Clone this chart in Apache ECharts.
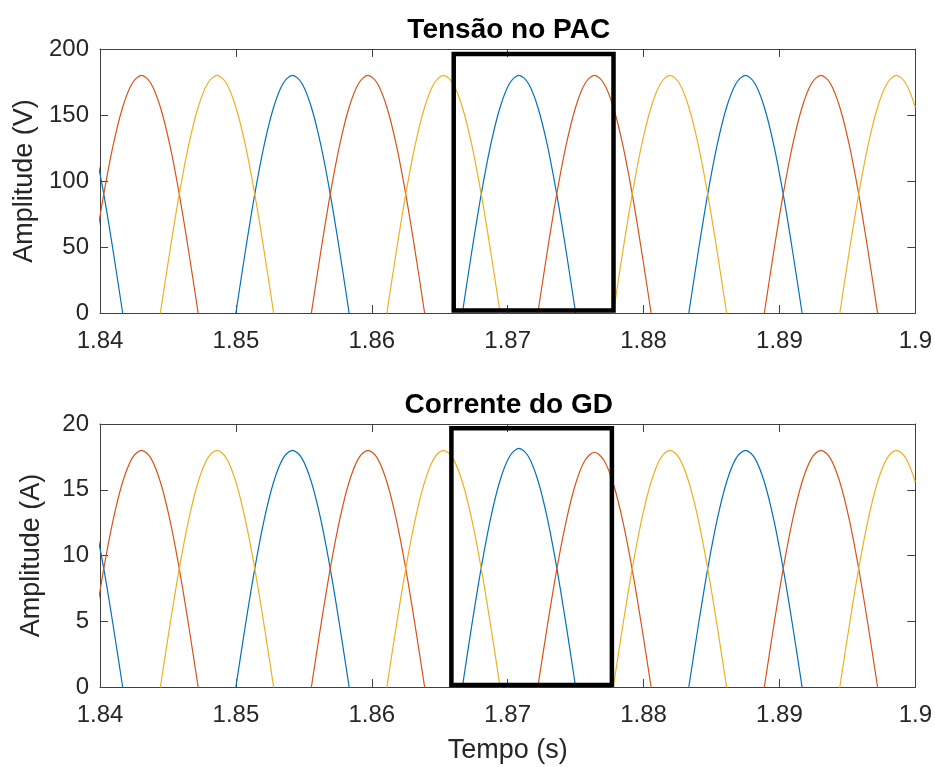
<!DOCTYPE html>
<html>
<head>
<meta charset="utf-8">
<script src="https://cdn.jsdelivr.net/npm/echarts@6/dist/echarts.min.js"></script>
<style>
html,body{margin:0;padding:0;background:#fff;}
#chart{width:935px;height:767px;}
</style>
</head>
<body>
<div id="chart"></div>
<script>
// ---- data ----
const titles = ['Tensão no PAC', 'Corrente do GD'];
const yNames = ['Amplitude (V)', 'Amplitude (A)'];
const xName = 'Tempo (s)';
const xTicks = [1.84, 1.85, 1.86, 1.87, 1.88, 1.89, 1.9];
const vTicks = [0, 50, 100, 150, 200];
const iTicks = [0, 5, 10, 15, 20];

const time = [
1.839583,1.840278,1.840972,1.841667,1.842361,1.843056,1.843750,1.844444,1.845139,1.845833,
1.846528,1.847222,1.847917,1.848611,1.849306,1.850000,1.850694,1.851389,1.852083,1.852778,
1.853472,1.854167,1.854861,1.855556,1.856250,1.856944,1.857639,1.858333,1.859028,1.859722,
1.860417,1.861111,1.861806,1.862500,1.863194,1.863889,1.864583,1.865278,1.865972,1.866667,
1.867361,1.868056,1.868750,1.869444,1.870139,1.870833,1.871528,1.872222,1.872917,1.873611,
1.874306,1.875000,1.875694,1.876389,1.877083,1.877778,1.878472,1.879167,1.879861,1.880556,
1.881250,1.881944,1.882639,1.883333,1.884028,1.884722,1.885417,1.886111,1.886806,1.887500,
1.888194,1.888889,1.889583,1.890278,1.890972,1.891667,1.892361,1.893056,1.893750,1.894444,
1.895139,1.895833,1.896528,1.897222,1.897917,1.898611,1.899306,1.900000];

// Voltage at the PCC (V)
const vA = [
127.3,90,46.6,0,-46.6,-90,-127.3,-155.9,-173.9,-180,-173.9,-155.9,-127.3,-90,-46.6,
0,46.6,90,127.3,155.9,173.9,180,173.9,155.9,127.3,90,46.6,0,-46.6,-90,-127.3,-155.9,-173.9,-180,-173.9,-155.9,-127.3,-90,-46.6,
0,46.6,90,127.3,155.9,173.9,180,173.9,155.9,127.3,90,46.6,0,-46.6,-90,-127.3,-155.9,-173.9,-180,-173.9,-155.9,-127.3,-90,-46.6,
0,46.6,90,127.3,155.9,173.9,180,173.9,155.9,127.3,90,46.6,0,-46.6,-90,-127.3,-155.9,-173.9,-180,-173.9,-155.9,-127.3,-90,-46.6,
0];
const vB = [
46.6,90,127.3,155.9,173.9,180,173.9,155.9,127.3,90,46.6,0,-46.6,-90,-127.3,-155.9,-173.9,-180,-173.9,-155.9,-127.3,-90,-46.6,
0,46.6,90,127.3,155.9,173.9,180,173.9,155.9,127.3,90,46.6,0,-46.6,-90,-127.3,-155.9,-173.9,-180,-173.9,-155.9,-127.3,-90,-46.6,
0,46.6,90,127.3,155.9,173.9,180,173.9,155.9,127.3,90,46.6,0,-46.6,-90,-127.3,-155.9,-173.9,-180,-173.9,-155.9,-127.3,-90,-46.6,
0,46.6,90,127.3,155.9,173.9,180,173.9,155.9,127.3,90,46.6,0,-46.6,-90,-127.3,-155.9];
const vC = [
-173.9,-180,-173.9,-155.9,-127.3,-90,-46.6,
0,46.6,90,127.3,155.9,173.9,180,173.9,155.9,127.3,90,46.6,0,-46.6,-90,-127.3,-155.9,-173.9,-180,-173.9,-155.9,-127.3,-90,-46.6,
0,46.6,90,127.3,155.9,173.9,180,173.9,155.9,127.3,90,46.6,0,-46.6,-90,-127.3,-155.9,-173.9,-180,-173.9,-155.9,-127.3,-90,-46.6,
0,46.6,90,127.3,155.9,173.9,180,173.9,155.9,127.3,90,46.6,0,-46.6,-90,-127.3,-155.9,-173.9,-180,-173.9,-155.9,-127.3,-90,-46.6,
0,46.6,90,127.3,155.9,173.9,180,173.9,155.9];

// DG current (A)
const iA = [
12.73,9,4.66,0,-4.66,-9,-12.73,-15.59,-17.39,-18,-17.39,-15.59,-12.73,-9,-4.66,
0,4.66,9,12.73,15.59,17.39,18,17.39,15.59,12.73,9,4.66,0,-4.66,-9,-12.73,-15.59,-17.39,-18,-17.39,-15.59,-12.73,-9,-4.66,
0,4.70,9.08,12.84,15.72,17.53,18.15,17.53,15.72,12.84,9.08,4.70,0,-4.66,-9,-12.73,-15.59,-17.39,-18,-17.39,-15.59,-12.73,-9,-4.66,
0,4.66,9,12.73,15.59,17.39,18,17.39,15.59,12.73,9,4.66,0,-4.66,-9,-12.73,-15.59,-17.39,-18,-17.39,-15.59,-12.73,-9,-4.66,
0];
const iB = [
4.66,9,12.73,15.59,17.39,18,17.39,15.59,12.73,9,4.66,0,-4.66,-9,-12.73,-15.59,-17.39,-18,-17.39,-15.59,-12.73,-9,-4.66,
0,4.66,9,12.73,15.59,17.39,18,17.39,15.59,12.73,9,4.66,0,-4.66,-9,-12.73,-15.59,-17.39,-18,-17.39,-15.59,-12.73,-9,-4.66,
0,4.62,8.93,12.62,15.46,17.24,17.85,17.24,15.46,12.62,8.93,4.62,0,-4.66,-9,-12.73,-15.59,-17.39,-18,-17.39,-15.59,-12.73,-9,-4.66,
0,4.66,9,12.73,15.59,17.39,18,17.39,15.59,12.73,9,4.66,0,-4.66,-9,-12.73,-15.59];
const iC = [
-17.39,-18,-17.39,-15.59,-12.73,-9,-4.66,
0,4.66,9,12.73,15.59,17.39,18,17.39,15.59,12.73,9,4.66,0,-4.66,-9,-12.73,-15.59,-17.39,-18,-17.39,-15.59,-12.73,-9,-4.66,
0,4.66,9,12.73,15.59,17.39,18,17.39,15.59,12.73,9,4.66,0,-4.66,-9,-12.73,-15.59,-17.39,-18,-17.39,-15.59,-12.73,-9,-4.66,
0,4.66,9,12.73,15.59,17.39,18,17.39,15.59,12.73,9,4.66,0,-4.66,-9,-12.73,-15.59,-17.39,-18,-17.39,-15.59,-12.73,-9,-4.66,
0,4.66,9,12.73,15.59,17.39,18,17.39,15.59];

// highlight rectangles (time range, value range)
const boxTimeV = [1.86603, 1.87779];
const boxValV = [1.9, 196.2];
const boxTimeI = [1.86586, 1.87767];
const boxValI = [0.15, 19.67];

// ---- chart ----
const FONT = '"Liberation Sans", Arial, Helvetica, sans-serif';
const AX = '#404040';
const TXT = '#262626';
const COLORS = ['#0072BD', '#D95319', '#EDB120'];

const chart = echarts.init(document.getElementById('chart'), null, {renderer: 'canvas'});

function pairs(vals) { return time.map((t, i) => [t, vals[i]]); }
function rect(tx, vy) {
  const mid = (vy[0] + vy[1]) / 2;
  return [[tx[0], mid], [tx[0], vy[1]], [tx[1], vy[1]], [tx[1], vy[0]], [tx[0], vy[0]], [tx[0], mid]];
}
function fmtX(v) { return String(+(+v).toFixed(2)); }

function xAx(grid, pos, withLabel, name) {
  return {
    type: 'value', gridIndex: grid, position: pos,
    min: xTicks[0], max: xTicks[xTicks.length - 1], interval: 0.01,
    axisLine: {show: true, onZero: false, lineStyle: {color: AX, width: 1}},
    axisTick: {show: true, inside: true, length: 8, lineStyle: {color: AX, width: 1}},
    axisLabel: {show: withLabel, formatter: fmtX, color: TXT, fontSize: 24, fontFamily: FONT, margin: 16},
    splitLine: {show: false},
    name: name || '', nameLocation: 'middle', nameGap: 50,
    nameTextStyle: {color: TXT, fontSize: 27, fontFamily: FONT}
  };
}
function yAx(grid, pos, ticks, withLabel, name) {
  return {
    type: 'value', gridIndex: grid, position: pos,
    min: ticks[0], max: ticks[ticks.length - 1], interval: ticks[1] - ticks[0],
    axisLine: {show: true, onZero: false, lineStyle: {color: AX, width: 1}},
    axisTick: {show: true, inside: true, length: 8, lineStyle: {color: AX, width: 1}},
    axisLabel: {show: withLabel, color: TXT, fontSize: 24, fontFamily: FONT, margin: 11},
    splitLine: {show: false},
    name: name || '', nameLocation: 'middle', nameGap: 55, nameRotate: 90,
    nameTextStyle: {color: TXT, fontSize: 27, fontFamily: FONT}
  };
}
function wave(vals, color, xi, yi) {
  return {
    type: 'line', data: pairs(vals), xAxisIndex: xi, yAxisIndex: yi,
    showSymbol: false, symbol: 'none', smooth: 0.33, clip: true,
    lineStyle: {color: color, width: 1.2}, z: 3, silent: true
  };
}
function box(tx, vy, xi, yi) {
  return {
    type: 'line', data: rect(tx, vy), xAxisIndex: xi, yAxisIndex: yi,
    showSymbol: false, symbol: 'none', clip: false,
    lineStyle: {color: '#000', width: 4.5, join: 'miter', cap: 'square'}, z: 5, silent: true
  };
}

const option = {
  animation: false,
  backgroundColor: '#fff',
  grid: [
    {left: 100, top: 49, width: 817.5, height: 264},
    {left: 100, top: 424, width: 817.5, height: 263}
  ],
  xAxis: [
    xAx(0, 'bottom', true),
    xAx(0, 'top', false),
    xAx(1, 'bottom', true, xName),
    xAx(1, 'top', false)
  ],
  yAxis: [
    yAx(0, 'left', vTicks, true, yNames[0]),
    yAx(0, 'right', vTicks, false),
    yAx(1, 'left', iTicks, true, yNames[1]),
    yAx(1, 'right', iTicks, false)
  ],
  graphic: [
    {type: 'text', x: 508.75, y: 30, style: {text: titles[0], fill: '#000', font: 'bold 28px ' + FONT, align: 'center', verticalAlign: 'middle'}},
    {type: 'text', x: 508.75, y: 405, style: {text: titles[1], fill: '#000', font: 'bold 28px ' + FONT, align: 'center', verticalAlign: 'middle'}}
  ],
  series: [
    wave(vA, COLORS[0], 0, 0),
    wave(vB, COLORS[1], 0, 0),
    wave(vC, COLORS[2], 0, 0),
    box(boxTimeV, boxValV, 0, 0),
    wave(iA, COLORS[0], 2, 2),
    wave(iB, COLORS[1], 2, 2),
    wave(iC, COLORS[2], 2, 2),
    box(boxTimeI, boxValI, 2, 2)
  ]
};
chart.setOption(option);
</script>
</body>
</html>
